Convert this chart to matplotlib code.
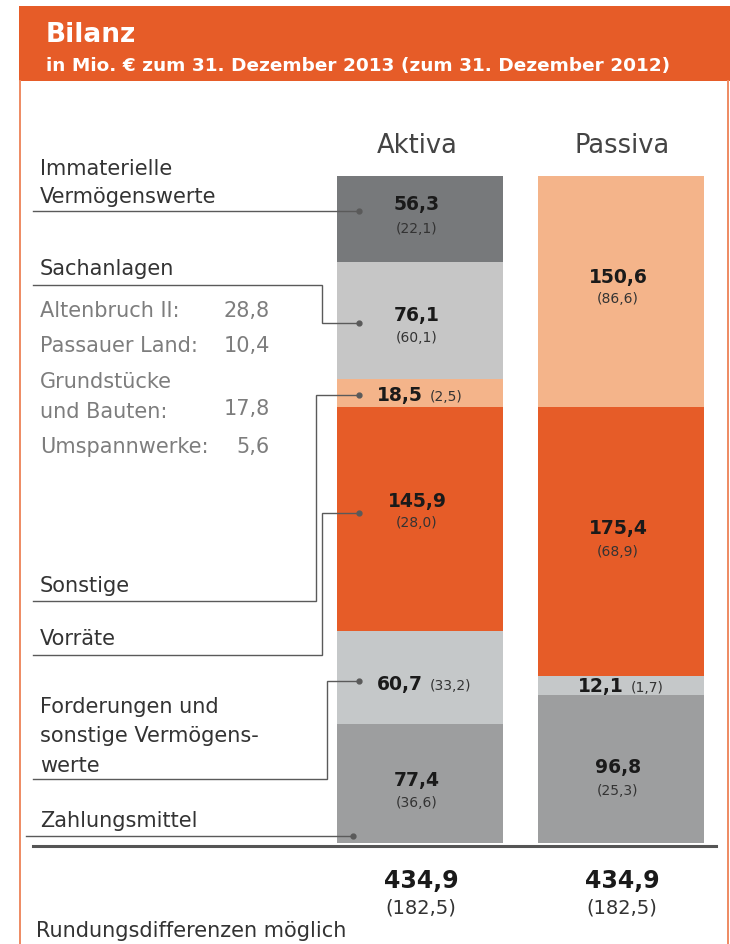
import matplotlib
matplotlib.use("Agg")
import matplotlib.pyplot as plt
import numpy as np
from matplotlib.patches import Rectangle

plt.rcParams['font.family'] = ['DejaVu Sans']

# data (Mio. EUR, 2013 with 2012 in brackets), stacked bottom -> top
aktiva_names = ['Zahlungsmittel', 'Forderungen', 'Vorräte', 'Sonstige',
                'Sachanlagen', 'Immaterielle Vermögenswerte']
aktiva_2013 = [77.4, 60.7, 145.9, 18.5, 76.1, 56.3]
aktiva_2012 = [36.6, 33.2, 28.0, 2.5, 60.1, 22.1]
passiva_2013 = [96.8, 12.1, 175.4, 150.6]
passiva_2012 = [25.3, 1.7, 68.9, 86.6]
total_2013 = 434.9
total_2012 = 182.5
columns = ['Aktiva', 'Passiva']

sach_items = ['Altenbruch II:', 'Passauer Land:', 'Grundstücke', 'und Bauten:', 'Umspannwerke:']
sach_values = [28.8, 10.4, None, 17.8, 5.6]

# colours
ORANGE = '#e65c28'
aktiva_colors = ['#9d9e9f', '#c5c8c9', ORANGE, '#f4b48a', '#c6c6c6', '#77797b']
passiva_colors = ['#9d9e9f', '#c5c8c9', ORANGE, '#f4b48a']

# label layout: (inline?, bold dy, bracket dy) in pixels from segment centre
aktiva_lbl = [(False, -2, -23), (True, -12, -12), (False, 12, -8),
              (True, -8, -8), (False, 0, -21), (False, 9, -14)]
passiva_lbl = [(False, -4, -26), (True, -7, -7), (False, 7, -15), (False, 8, -12)]


def fmt(v):
    return f'{v:.1f}'.replace('.', ',')


W, H = 730, 944
fig = plt.figure(figsize=(W / 100, H / 100), dpi=100)

# bar axes (pixel box: x 337..704, y 176..843)
ax = fig.add_axes([337 / W, (H - 843) / H, 367 / W, 667 / H])
ax.set_xlim(-0.413, 1.413)
ax.set_ylim(0, total_2013)
ax.axis('off')

VB, VP = 13.5, 10
bw = 0.826
for i, (vals, prev, cols, lay) in enumerate([(aktiva_2013, aktiva_2012, aktiva_colors, aktiva_lbl),
                                               (passiva_2013, passiva_2012, passiva_colors, passiva_lbl)]):
    bottoms = np.concatenate([[0], np.cumsum(vals)[:-1]])
    ax.bar(i, vals, bottom=bottoms, width=bw, color=cols, edgecolor='none')
    for v, p, b, (inline, dyb, dyp) in zip(vals, prev, bottoms, lay):
        yc = b + v / 2
        if inline:
            ax.annotate(fmt(v), (i, yc), xytext=(3, dyb), textcoords='offset pixels',
                        ha='right', va='baseline', fontsize=VB, fontweight='bold', color='#1a1a1a')
            ax.annotate(f'({fmt(p)})', (i, yc), xytext=(10, dyp), textcoords='offset pixels',
                        ha='left', va='baseline', fontsize=VP, color='#333333')
        else:
            ax.annotate(fmt(v), (i, yc), xytext=(-3, dyb), textcoords='offset pixels',
                        ha='center', va='baseline', fontsize=VB, fontweight='bold', color='#1a1a1a')
            ax.annotate(f'({fmt(p)})', (i, yc), xytext=(-3, dyp), textcoords='offset pixels',
                        ha='center', va='baseline', fontsize=VP, color='#333333')

# overlay axes in pixel coordinates for frame, header and labels
ov = fig.add_axes([0, 0, 1, 1], zorder=5)
ov.set_xlim(0, W)
ov.set_ylim(H, 0)
ov.axis('off')
ov.patch.set_alpha(0)

ov.add_patch(Rectangle((19, 6), W - 19, 75, color=ORANGE, lw=0))
ov.plot([19.5, 19.5], [81, H], color='#ee8a62', lw=1.4)
ov.plot([727.5, 727.5], [81, H], color='#ee8a62', lw=1.4)
ov.text(46, 42, 'Bilanz', color='white', fontsize=19, fontweight='bold', va='baseline')
ov.text(46, 71, 'in Mio. € zum 31. Dezember 2013 (zum 31. Dezember 2012)', color='white',
        fontsize=13.3, fontweight='bold', va='baseline')

# column heads
for x, name in zip([417, 622], columns):
    ov.text(x, 153, name, ha='center', va='baseline', fontsize=18.5, color='#444444')

DARK = '#333333'
GREY = '#7d7d7d'
LBL = 15
ov.text(40, 175, 'Immaterielle', fontsize=LBL, color=DARK, va='baseline')
ov.text(40, 203, 'Vermögenswerte', fontsize=LBL, color=DARK, va='baseline')
ov.text(40, 275, 'Sachanlagen', fontsize=LBL, color=DARK, va='baseline')
ov.text(40, 592, 'Sonstige', fontsize=LBL, color=DARK, va='baseline')
ov.text(40, 645, 'Vorräte', fontsize=LBL, color=DARK, va='baseline')
ov.text(40, 713, 'Forderungen und', fontsize=LBL, color=DARK, va='baseline')
ov.text(40, 742, 'sonstige Vermögens-', fontsize=LBL, color=DARK, va='baseline')
ov.text(40, 772, 'werte', fontsize=LBL, color=DARK, va='baseline')
ov.text(40, 827, 'Zahlungsmittel', fontsize=LBL, color=DARK, va='baseline')
ov.text(36, 937, 'Rundungsdifferenzen möglich', fontsize=LBL, color=DARK, va='baseline')

# Sachanlagen breakdown
item_y = [317, 352, 388, 418, 453]
val_y = [317, 352, None, 415, 453]
for name, v, yt, yv in zip(sach_items, sach_values, item_y, val_y):
    ov.text(40, yt, name, fontsize=LBL, color=GREY, va='baseline')
    if v is not None:
        ov.text(270, yv, fmt(v), fontsize=LBL, color=GREY, va='baseline', ha='right')

# leader lines
LC = '#5a5a5a'
leaders = [
    ([33, 359], [211, 211]),
    ([33, 322, 322, 359], [285, 285, 323, 323]),
    ([33, 316, 316, 359], [601, 601, 395, 395]),
    ([33, 322, 322, 359], [655, 655, 513, 513]),
    ([33, 327, 327, 359], [779, 779, 681, 681]),
    ([26, 353], [836, 836]),
]
for xs, ys in leaders:
    ov.plot(xs, ys, color=LC, lw=1.0, solid_joinstyle='miter')
    ov.plot(xs[-1], ys[-1], 'o', color=LC, ms=3.5)

# base line and totals
ov.plot([33, 716], [846, 846], color='#555555', lw=2.2)
for x in [421, 622]:
    ov.text(x, 888, fmt(total_2013), ha='center', va='baseline', fontsize=17,
            fontweight='bold', color='#1a1a1a')
    ov.text(x, 913, f'({fmt(total_2012)})', ha='center', va='baseline', fontsize=14,
            color='#333333')

fig.savefig('out.png', dpi=100)
